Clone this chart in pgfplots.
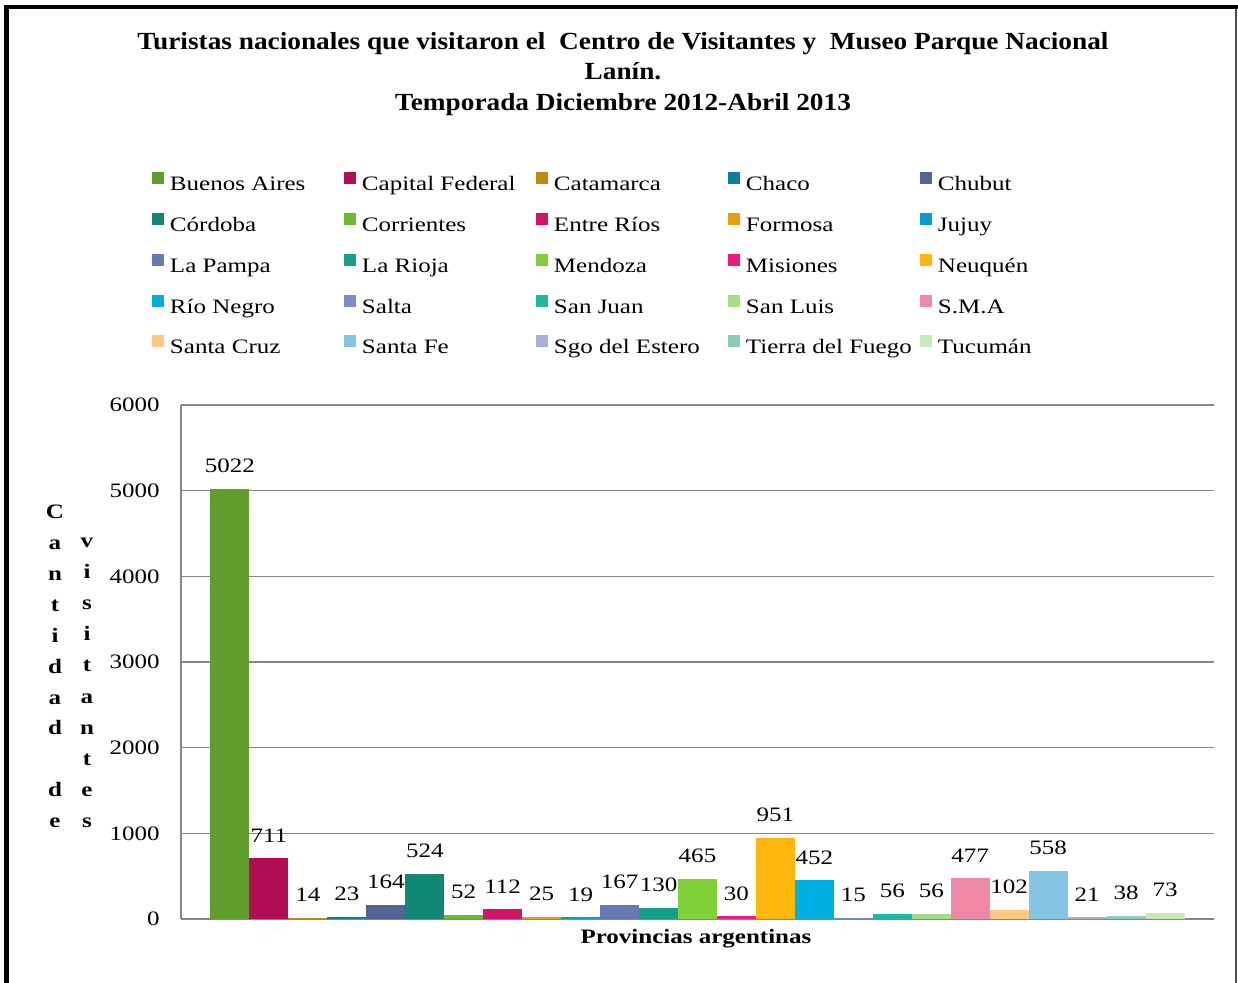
\documentclass[border=0pt]{standalone}
\usepackage{fontspec}
\setmainfont{Liberation Serif}[FakeStretch=1.22]
\newfontfamily\titlefont{Liberation Serif}[FakeStretch=1.11]
\usepackage{pgfplots}
\pgfplotsset{compat=1.18}
\definecolor{gridc}{RGB}{134,134,134}
\definecolor{c1}{RGB}{95,158,44}
\definecolor{c2}{RGB}{177,14,87}
\definecolor{c3}{RGB}{194,138,10}
\definecolor{c4}{RGB}{12,127,160}
\definecolor{c5}{RGB}{82,101,150}
\definecolor{c6}{RGB}{18,136,116}
\definecolor{c7}{RGB}{108,184,46}
\definecolor{c8}{RGB}{210,20,106}
\definecolor{c9}{RGB}{227,160,10}
\definecolor{c10}{RGB}{10,156,200}
\definecolor{c11}{RGB}{102,121,180}
\definecolor{c12}{RGB}{22,158,137}
\definecolor{c13}{RGB}{128,208,58}
\definecolor{c14}{RGB}{236,26,124}
\definecolor{c15}{RGB}{253,182,11}
\definecolor{c16}{RGB}{0,174,224}
\definecolor{c17}{RGB}{122,142,204}
\definecolor{c18}{RGB}{30,184,160}
\definecolor{c19}{RGB}{168,220,136}
\definecolor{c20}{RGB}{238,136,166}
\definecolor{c21}{RGB}{253,201,128}
\definecolor{c22}{RGB}{132,197,230}
\definecolor{c23}{RGB}{166,176,218}
\definecolor{c24}{RGB}{142,204,186}
\definecolor{c25}{RGB}{200,232,186}
\newcommand\lgt[1]{\makebox[84pt][l]{#1}}
\newcommand\fs{\fontsize{10.25}{12}\selectfont}
\begin{document}
\begin{tikzpicture}
\useasboundingbox (-90.5pt,-32pt) rectangle (528.5pt,459.5pt);
\fill[white] (-90.5pt,-32pt) rectangle (528.5pt,459.5pt);
\draw[line width=2.5pt] (-87.25pt,-32pt) -- (-87.25pt,456.85pt);
\draw[line width=2pt] (-88.5pt,455.85pt) -- (528.5pt,455.85pt);
\draw[line width=0.8pt, gray!60!black] (527.5pt,455pt) -- (527.5pt,-32pt);
\begin{axis}[
 scale only axis, width=516.5pt, height=257pt,
 ybar, bar width=1,
 xmin=-1.257, xmax=25.257, ymin=0, ymax=6000,
 ytick={0,1000,...,6000}, xtick=\empty,
 axis x line*=bottom, axis y line*=left,
 axis line style={gridc, line width=0.75pt, -},
 ymajorgrids, grid style={gridc, line width=0.75pt},
 major tick length=0pt,
 /pgf/number format/1000 sep={},
 /pgf/number format/assume math mode=true,
 ticklabel style={font=\fs},
 yticklabel style={inner xsep=0pt, xshift=-10.5pt},
 nodes near coords,
 nodes near coords style={font=\fs, black, yshift=4.5pt},
 xlabel={\textbf{Provincias argentinas}},
 xlabel style={at={(rel axis cs:0.4985,0)}, anchor=base, yshift=-12.5pt, font=\fs},
 legend columns=5,
 legend image code/.code={\fill[#1] (0pt,0.5pt) rectangle (6pt,6.5pt);},
 legend style={at={(rel axis cs:-0.02807,1.4553)}, anchor=north west, draw=none, fill=none,
   inner sep=0pt, outer sep=0pt, row sep=5.85pt, column sep=0pt, font=\fs,
   nodes={inner xsep=3pt, inner ysep=2pt, text height=8pt, text depth=2.5pt}},
]
\addplot[fill=c1,draw=none,bar shift=0pt] coordinates {(0,5022)}; \addlegendentry{\lgt{Buenos Aires}}
\addplot[fill=c2,draw=none,bar shift=0pt] coordinates {(1,711)}; \addlegendentry{\lgt{Capital Federal}}
\addplot[fill=c3,draw=none,bar shift=0pt] coordinates {(2,14)}; \addlegendentry{\lgt{Catamarca}}
\addplot[fill=c4,draw=none,bar shift=0pt] coordinates {(3,23)}; \addlegendentry{\lgt{Chaco}}
\addplot[fill=c5,draw=none,bar shift=0pt] coordinates {(4,164)}; \addlegendentry{\lgt{Chubut}}
\addplot[fill=c6,draw=none,bar shift=0pt] coordinates {(5,524)}; \addlegendentry{\lgt{Córdoba}}
\addplot[fill=c7,draw=none,bar shift=0pt] coordinates {(6,52)}; \addlegendentry{\lgt{Corrientes}}
\addplot[fill=c8,draw=none,bar shift=0pt] coordinates {(7,112)}; \addlegendentry{\lgt{Entre Ríos}}
\addplot[fill=c9,draw=none,bar shift=0pt] coordinates {(8,25)}; \addlegendentry{\lgt{Formosa}}
\addplot[fill=c10,draw=none,bar shift=0pt] coordinates {(9,19)}; \addlegendentry{\lgt{Jujuy}}
\addplot[fill=c11,draw=none,bar shift=0pt] coordinates {(10,167)}; \addlegendentry{\lgt{La Pampa}}
\addplot[fill=c12,draw=none,bar shift=0pt] coordinates {(11,130)}; \addlegendentry{\lgt{La Rioja}}
\addplot[fill=c13,draw=none,bar shift=0pt] coordinates {(12,465)}; \addlegendentry{\lgt{Mendoza}}
\addplot[fill=c14,draw=none,bar shift=0pt] coordinates {(13,30)}; \addlegendentry{\lgt{Misiones}}
\addplot[fill=c15,draw=none,bar shift=0pt] coordinates {(14,951)}; \addlegendentry{\lgt{Neuquén}}
\addplot[fill=c16,draw=none,bar shift=0pt] coordinates {(15,452)}; \addlegendentry{\lgt{Río Negro}}
\addplot[fill=c17,draw=none,bar shift=0pt] coordinates {(16,15)}; \addlegendentry{\lgt{Salta}}
\addplot[fill=c18,draw=none,bar shift=0pt] coordinates {(17,56)}; \addlegendentry{\lgt{San Juan}}
\addplot[fill=c19,draw=none,bar shift=0pt] coordinates {(18,56)}; \addlegendentry{\lgt{San Luis}}
\addplot[fill=c20,draw=none,bar shift=0pt] coordinates {(19,477)}; \addlegendentry{\lgt{S.M.A}}
\addplot[fill=c21,draw=none,bar shift=0pt] coordinates {(20,102)}; \addlegendentry{\lgt{Santa Cruz}}
\addplot[fill=c22,draw=none,bar shift=0pt] coordinates {(21,558)}; \addlegendentry{\lgt{Santa Fe}}
\addplot[fill=c23,draw=none,bar shift=0pt] coordinates {(22,21)}; \addlegendentry{\lgt{Sgo del Estero}}
\addplot[fill=c24,draw=none,bar shift=0pt] coordinates {(23,38)}; \addlegendentry{\lgt{Tierra del Fuego}}
\addplot[fill=c25,draw=none,bar shift=0pt] coordinates {(24,73)}; \addlegendentry{\lgt{Tucumán}}
\end{axis}
\begin{scope}[every node/.style={anchor=base, inner sep=0pt, font=\titlefont\fontsize{12.3}{14}\selectfont\bfseries}]
\node at (221pt,434.85pt) {Turistas nacionales que visitaron el\ \ Centro de Visitantes y\ \ Museo Parque Nacional};
\node at (221pt,419.5pt) {Lanín.};
\node at (221pt,404.25pt) {Temporada Diciembre 2012-Abril 2013};
\end{scope}
\begin{scope}[every node/.style={anchor=base, inner sep=0pt, font=\fs\bfseries}]
\foreach \c/\y in {C/200, a/184.5, n/169, t/153.5, i/138, d/122.5, a/107, d/92, d/61, e/45.5}
  \node at (-63pt,\y pt) {\c};
\foreach \c/\y in {v/185.5, i/170, s/154.5, i/139, t/123.5, a/107.5, n/92, t/76.5, e/61, s/45.5}
  \node at (-47pt,\y pt) {\c};
\end{scope}
\end{tikzpicture}
\end{document}
